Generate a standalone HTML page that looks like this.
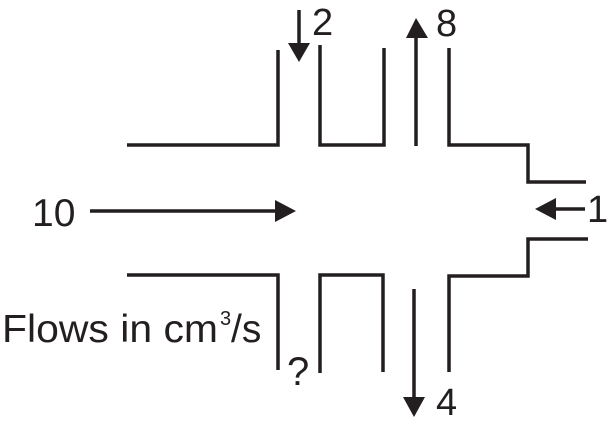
<!DOCTYPE html>
<html><head><style>body{margin:0;background:#fff}svg{display:block}text{font-family:"Liberation Sans",Arial,sans-serif;fill:#231f20}</style></head>
<body>
<svg width="609" height="422" viewBox="0 0 609 422" xmlns="http://www.w3.org/2000/svg">
<g fill="none" stroke="#231f20" stroke-width="3.5" stroke-linecap="butt">
<polyline points="127,145 278,145 278,50"/>
<polyline points="320,45 320,145 384,145 384,48"/>
<polyline points="449,48 449,145 528,145 528,182 586,182"/>
<polyline points="127,275 278,275 278,370"/>
<polyline points="320,373 320,275 383,275 383,372"/>
<polyline points="449,372 449,276 528,276 528,239 588,239"/>
<line x1="299" y1="10" x2="299" y2="45"/>
<line x1="416" y1="146" x2="416" y2="36"/>
<line x1="414" y1="289" x2="414" y2="398"/>
<line x1="90" y1="211" x2="277" y2="211"/>
<line x1="585" y1="209" x2="555" y2="209"/>
</g>
<g fill="#231f20">
<polygon points="288,43 310,43 299,62"/>
<polygon points="406,38 428,38 416,18"/>
<polygon points="403,397 425,397 414,417"/>
<polygon points="275,200 275,222 296,211"/>
<polygon points="556,198 556,220 535,209"/>
</g>
<text x="312" y="35" font-size="38">2</text>
<text x="436" y="36" font-size="38">8</text>
<text x="587" y="222" font-size="38">1</text>
<text x="436" y="415" font-size="38">4</text>
<text x="287" y="385" font-size="40">?</text>
<text x="32" y="226" font-size="39">10</text>
<text x="2" y="342" font-size="39" textLength="216" lengthAdjust="spacingAndGlyphs">Flows in cm</text>
<text x="220" y="325" font-size="20">3</text>
<text x="231" y="342" font-size="39">/s</text>
</svg>
</body></html>
